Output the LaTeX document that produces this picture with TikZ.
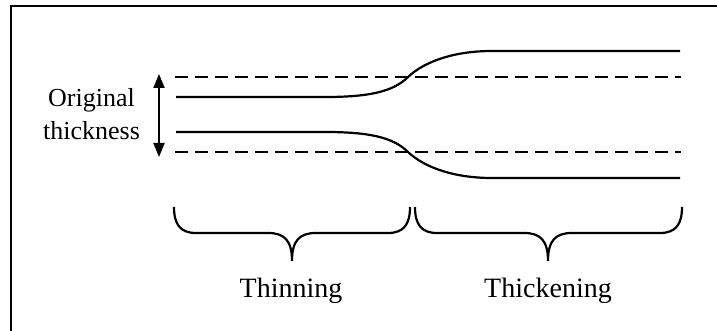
\documentclass[tikz,border=0pt]{standalone}
\usepackage{fontspec}
\setmainfont{Liberation Serif}
\usetikzlibrary{arrows.meta}
\begin{document}
\begin{tikzpicture}[x=1pt,y=-1pt,
  frame/.style={line width=2pt},
  sheet/.style={line width=2.2pt},
  guide/.style={line width=2.2pt,dash pattern=on 13pt off 7pt},
  bracepath/.style={line width=2.2pt},
  label/.style={font=\fontsize{26}{31}\selectfont,inner sep=0pt,anchor=base},
  biglabel/.style={font=\fontsize{28}{33}\selectfont,inner sep=0pt,anchor=base},
  dimarrow/.style={line width=2pt,{Triangle[length=14pt,width=11pt]}-{Triangle[length=14pt,width=11pt]}}]
\useasboundingbox (0,0) rectangle (717,331);
% frame (open on right and bottom)
\draw[frame] (11,332) -- (11,6) -- (718,6);
% dashed guides (original thickness)
\coordinate (gtl) at (175,77);  \coordinate (gtr) at (681,77);
\coordinate (gbl) at (175,152); \coordinate (gbr) at (681,152);
\draw[guide] (gtl) -- (gtr);
\draw[guide] (gbl) -- (gbr);
% sheet surfaces
\coordinate (utl) at (176,97);  \coordinate (utr) at (680,51);
\coordinate (ltl) at (176,132); \coordinate (ltr) at (680,178);
\draw[sheet] (utl) -- (325,97) .. controls (368,97) and (393,92) .. (408,77)
  .. controls (425,61) and (455,51) .. (492,51) -- (utr);
\draw[sheet] (ltl) -- (325,132) .. controls (368,132) and (393,137) .. (408,152)
  .. controls (425,168) and (455,178) .. (492,178) -- (ltr);
% thickness arrow
\coordinate (atop) at (159,74);
\coordinate (abot) at (159,157);
\draw[dimarrow] (atop) -- (abot);
\node[label] (orig) at (91.5,107) {Original};
\node[label] (thk) at (91.5,140) {thickness};
% braces
\coordinate (b1l) at (174,207); \coordinate (b1t) at (292,261); \coordinate (b1r) at (410,207);
\draw[bracepath] (b1l) .. controls (174,224) and (180,233) .. (196,233) -- (268,233)
  .. controls (284,233) and (292,240) .. (b1t)
  .. controls (292,240) and (300,233) .. (316,233) -- (388,233)
  .. controls (404,233) and (410,224) .. (b1r);
\coordinate (b2l) at (415,207); \coordinate (b2t) at (548,261); \coordinate (b2r) at (682,207);
\draw[bracepath] (b2l) .. controls (415,224) and (421,233) .. (437,233) -- (524,233)
  .. controls (540,233) and (548,240) .. (b2t)
  .. controls (548,240) and (556,233) .. (572,233) -- (660,233)
  .. controls (676,233) and (682,224) .. (b2r);
\node[biglabel] (thin) at (291,297) {Thinning};
\node[biglabel] (thick) at (548,297) {Thickening};
\end{tikzpicture}
\end{document}
